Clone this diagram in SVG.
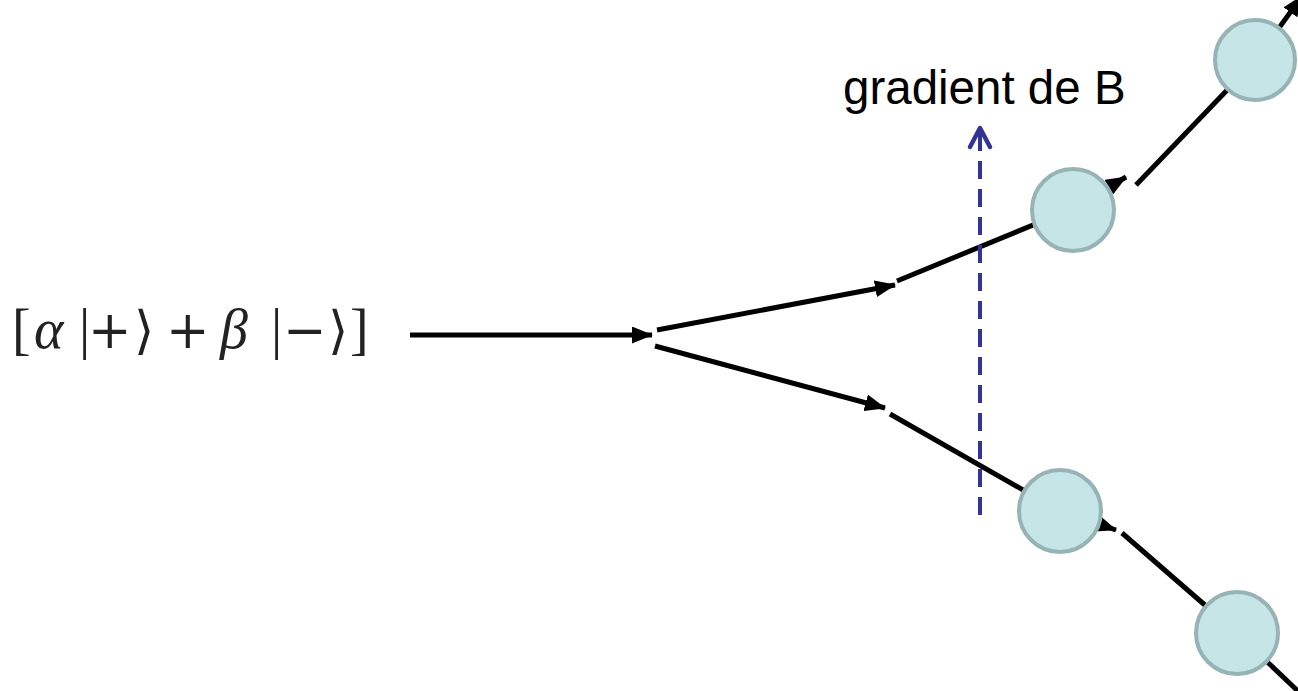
<svg xmlns="http://www.w3.org/2000/svg" width="1298" height="691" viewBox="0 0 1298 691">
<defs>
<marker id="ah" markerWidth="21" markerHeight="17" refX="20" refY="8.5" orient="auto" markerUnits="userSpaceOnUse" viewBox="0 0 21 17">
<path d="M0,0 L21,8.5 L0,17 Z" fill="#000"/>
</marker>
<style>
.ln{stroke:#000;stroke-width:5;fill:none}
.nd{fill:#c5e5e6;stroke:#97b3b6;stroke-width:4}
.m{font-family:"Liberation Serif","DejaVu Serif",serif;font-size:56px;fill:#222}
.mi{font-style:italic}
.op{font-family:"DejaVu Serif",serif;font-size:52px;font-weight:200}
</style>
</defs>
<rect width="1298" height="691" fill="#fff"/>
<g id="connectors">
<line class="ln" x1="410" y1="335" x2="652" y2="335" marker-end="url(#ah)"/>
<line class="ln" x1="657" y1="330" x2="895" y2="285" marker-end="url(#ah)"/>
<line class="ln" x1="897" y1="281" x2="1072" y2="209"/>
<line class="ln" x1="1072" y1="209" x2="1126" y2="177" marker-end="url(#ah)"/>
<line class="ln" x1="1136" y1="185" x2="1256" y2="60"/>
<line class="ln" x1="1256" y1="60" x2="1302" y2="-4" marker-end="url(#ah)"/>
<line class="ln" x1="655" y1="346" x2="885" y2="408" marker-end="url(#ah)"/>
<line class="ln" x1="890" y1="414" x2="1060" y2="511"/>
<line class="ln" x1="1060" y1="511" x2="1116" y2="530" marker-end="url(#ah)"/>
<line class="ln" x1="1122" y1="533" x2="1237" y2="633"/>
<line class="ln" x1="1237" y1="633" x2="1300" y2="693"/>
<line x1="980" y1="515" x2="980" y2="132" stroke="#333399" stroke-width="4" stroke-dasharray="18,10"/>
<polyline points="970,147 980,128 990,147" fill="none" stroke="#333399" stroke-width="4.5" stroke-linecap="round" stroke-linejoin="round"/>
</g>
<g id="n1"><circle class="nd" cx="1073" cy="210" r="41"/></g>
<g id="n2"><circle class="nd" cx="1255" cy="60" r="40"/></g>
<g id="n3"><circle class="nd" cx="1060" cy="511" r="41"/></g>
<g id="n4"><circle class="nd" cx="1237" cy="633" r="41"/></g>
<g id="label-gradient"><text x="843" y="104" font-family="Liberation Sans, Arial, sans-serif" font-size="47.5" fill="#000">gradient de B</text></g>
<g id="label-state">
<text class="m" y="348"><tspan x="12">[</tspan><tspan class="mi" x="34">α</tspan><tspan x="79">|</tspan><tspan class="op" x="88">+</tspan><tspan class="op" x="134">⟩</tspan><tspan class="op" x="166">+</tspan><tspan class="mi" x="220">β</tspan><tspan x="271">|</tspan><tspan class="op" x="283">−</tspan><tspan class="op" x="328">⟩</tspan><tspan x="350">]</tspan></text>
</g>
</svg>
